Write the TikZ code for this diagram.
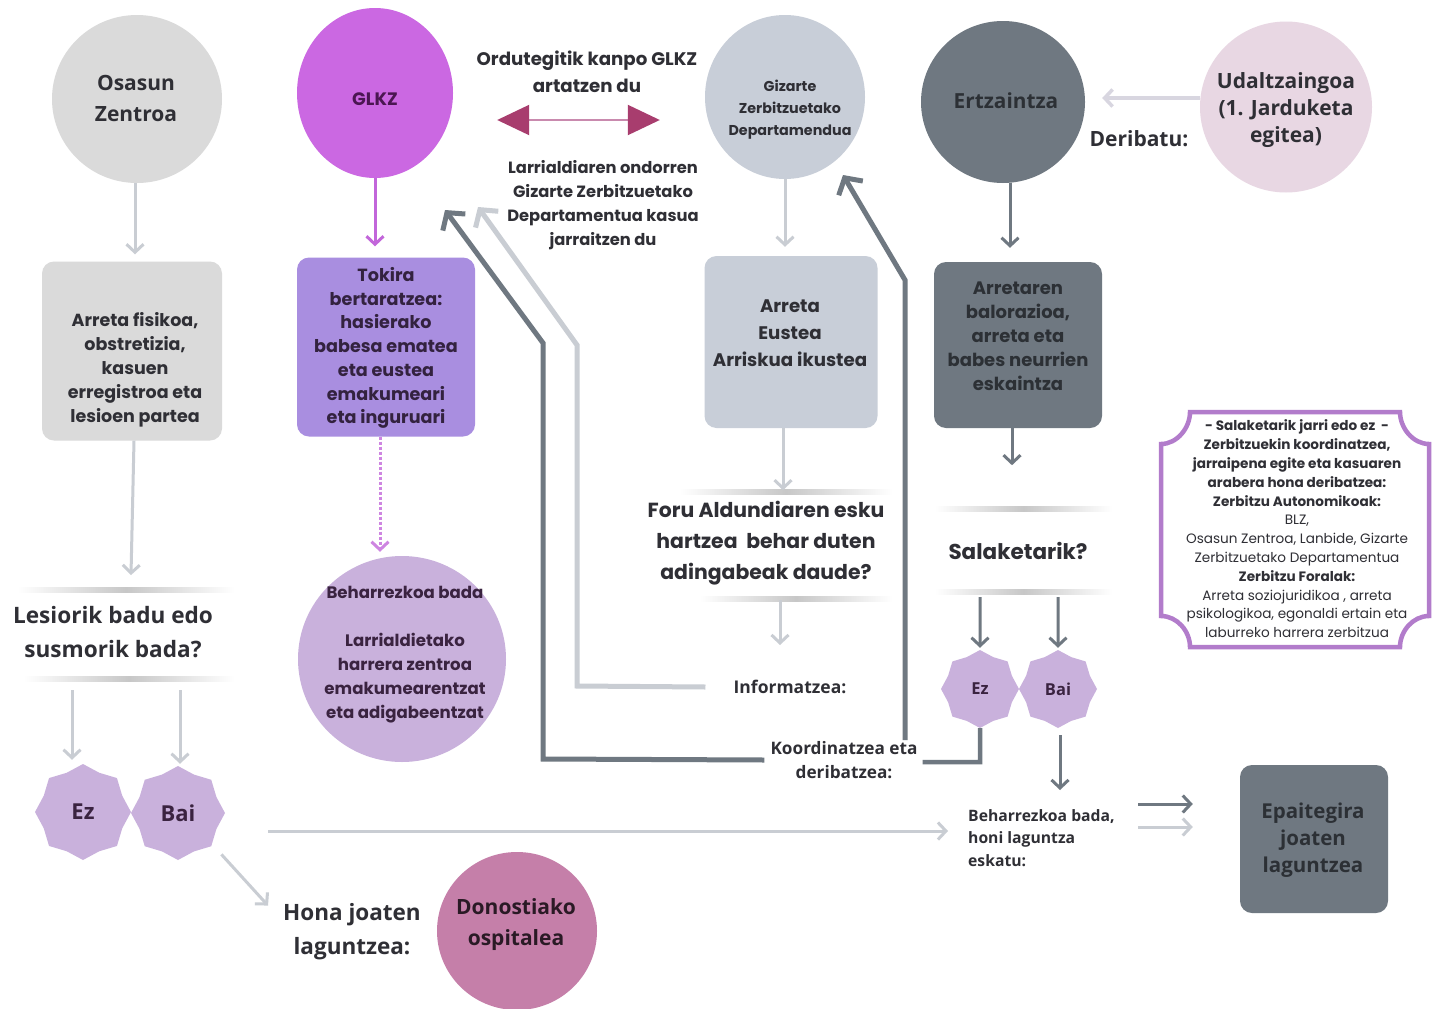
\documentclass[tikz,border=0pt]{standalone}
\usepackage{fontspec}
\setmainfont{Poppins}
\newfontfamily\os{Open Sans}
\usetikzlibrary{shapes.geometric,arrows.meta,calc}
\definecolor{cgrey}{HTML}{DADADA}
\definecolor{cglkz}{HTML}{CB68E2}
\definecolor{cglkzT}{HTML}{4B1652}
\definecolor{cpurp}{HTML}{A98EE0}
\definecolor{ctokT}{HTML}{33223F}
\definecolor{cblue}{HTML}{C8CED8}
\definecolor{cdark}{HTML}{6F7881}
\definecolor{ctextD}{HTML}{2C3035}
\definecolor{cpink}{HTML}{E8D7E3}
\definecolor{clav}{HTML}{C9B1DC}
\definecolor{cbehT}{HTML}{3A2340}
\definecolor{cmauve}{HTML}{C57FA9}
\definecolor{cdonT}{HTML}{2A1A25}
\definecolor{cline}{HTML}{C9CDD3}
\definecolor{clavline}{HTML}{D8D6E0}
\definecolor{cpurpline}{HTML}{C266DA}
\definecolor{ctext}{HTML}{2F2F35}
\definecolor{cframe}{HTML}{B27CCB}
\definecolor{ccrim}{HTML}{A83D6E}
\definecolor{cpinkline}{HTML}{C98AAE}
\newcommand\pbf[2]{\bfseries\fontsize{#1}{#2}\selectfont}
\newcommand\obf[2]{\os\bfseries\fontsize{#1}{#2}\selectfont}
\tikzset{
  blob/.style={ellipse, inner sep=0pt, draw=none},
  card/.style={rectangle, rounded corners=12pt, inner sep=0pt, draw=none},
  badge/.style={star, star points=8, star point ratio=1.13, inner sep=0pt, fill=clav, minimum size=#1},
  txt/.style={align=center, inner sep=0pt, text=ctext},
  tipS/.style={-{Straight Barb[length=8pt,width=17pt]}},
  tipB/.style={-{Straight Barb[length=12pt,width=28pt]}},
  lightarrow/.style={draw=cline, line width=3pt, tipS},
  lavarrow/.style={draw=clavline, line width=3.5pt, tipS},
  darkarrow/.style={draw=cdark, line width=3pt, tipS},
  purparrow/.style={draw=cpurpline, line width=3pt, tipS},
  dotarrow/.style={draw=cpurpline!80, line width=3pt, dotted, tipS},
  biglight/.style={draw=cline, line width=5pt, tipB},
  bigdark/.style={draw=cdark, line width=5pt, tipB},
  darkline/.style={draw=cdark, line width=4.5pt},
  softline/.style={left color=white, right color=white, middle color=black!22}
}
\begin{document}
\begin{tikzpicture}[x=1pt,y=-1pt]
\useasboundingbox (0,0) rectangle (1432,1009);
\fill[white] (0,0) rectangle (1432,1009);

% ---------- top row ----------
\node[blob, fill=cgrey, minimum width=170pt, minimum height=168pt] (osasun) at (137,99) {};
\node[txt, font=\obf{21}{31}] (osasunT) at (136,98) {Osasun\\Zentroa};

\node[blob, fill=cglkz, minimum width=156pt, minimum height=170pt] (glkz) at (375,93) {};
\node[txt, font=\pbf{18}{24}, text=cglkzT] (glkzT) at (375,99) {GLKZ};

\node[blob, fill=cblue, minimum width=160pt, minimum height=164pt] (gizarte) at (785,97) {};
\node[txt, font=\pbf{14.3}{22}] (gizarteT) at (790,110) {Gizarte\\Zerbitzuetako\\Departamendua};

\node[blob, fill=cdark, minimum width=164pt, minimum height=162pt] (ertz) at (1003,102) {};
\node[txt, font=\obf{20.8}{27}, text=ctextD] (ertzT) at (1006,101) {Ertzaintza};

\node[blob, fill=cpink, minimum width=172pt, minimum height=171pt] (udal) at (1286,107) {};
\node[txt, font=\obf{21}{27}] (udalT) at (1286,110) {Udaltzaingoa\\(1. Jarduketa\\egitea)};

\node[txt, font=\obf{21}{27}] (derib) at (1139,139) {Deribatu:};

\node[txt, font=\pbf{18.2}{27}] (ordu) at (587,72) {Ordutegitik kanpo GLKZ\\artatzen du};
\node[txt, font=\pbf{16.3}{24}] (larri) at (603,205) {Larrialdiaren ondorren\\Gizarte Zerbitzuetako\\Departamentua kasua\\jarraitzen du};

% ---------- second row ----------
\node[card, fill=cgrey, minimum width=180pt, minimum height=179pt] (arreta) at (132,351) {};
\node[txt, font=\pbf{17.5}{24}] (arretaT) at (135,370) {Arreta fisikoa,\\obstretizia,\\kasuen\\erregistroa eta\\lesioen partea};

\node[card, fill=cpurp, minimum width=178pt, minimum height=179pt] (tokira) at (386,347) {};
\node[txt, font=\pbf{17.6}{23.7}, text=ctokT] (tokiraT) at (386,348) {Tokira\\bertaratzea:\\hasierako\\babesa ematea\\eta eustea\\emakumeari\\eta inguruari};

\node[card, fill=cblue, minimum width=173pt, minimum height=172pt] (eustea) at (791,342) {};
\node[txt, font=\pbf{18.2}{27}] (eusteaT) at (790,333) {Arreta\\Eustea\\Arriskua ikustea};

\node[card, fill=cdark, minimum width=168pt, minimum height=166pt] (arretaren) at (1018,345) {};
\node[txt, font=\pbf{18}{24}, text=ctextD] (arretarenT) at (1018,336) {Arretaren\\balorazioa,\\arreta eta\\babes neurrien\\eskaintza};

% ---------- third row ----------
\shade[softline] (18,587) rectangle (234,592);
\shade[softline] (24,676) rectangle (234,681);
\node[txt, font=\obf{22.6}{34}] (lesio) at (113,632) {Lesiorik badu edo\\susmorik bada?};

\node[blob, fill=clav, minimum width=208pt, minimum height=206pt] (behar) at (402,659) {};
\node[txt, font=\pbf{16.6}{24}, text=cbehT] (beharT) at (405,655) {Beharrezkoa bada\\\mbox{}\\Larrialdietako\\harrera zentroa\\emakumearentzat\\eta adigabeentzat};

\shade[softline] (680,489) rectangle (892,494);
\shade[softline] (700,596) rectangle (892,601);
\node[txt, font=\pbf{20.4}{31}] (foru) at (766,543) {Foru Aldundiaren esku\\hartzea\ \ behar duten\\adingabeak daude?};
\node[txt, font=\obf{17.5}{24}] (inform) at (790,687) {Informatzea:};

\shade[softline] (935,506) rectangle (1112,511);
\shade[softline] (935,589) rectangle (1112,594);
\node[txt, font=\pbf{21.5}{27}] (salak) at (1018,551) {Salaketarik?};

\node[txt, font=\obf{17.2}{24}] (koord) at (844,760) {Koordinatzea eta\\deribatzea:};

\node[badge=78pt, font=\obf{16.5}{20}, text=cbehT] (ezR) at (980,689) {Ez};
\node[badge=78pt, font=\obf{16.5}{20}, text=cbehT] (baiR) at (1058,689) {Bai};

\node[txt, font=\obf{15.7}{22.5}, anchor=west, align=left] (beharB) at (968,838) {Beharrezkoa bada,\\honi laguntza\\eskatu:};

\node[card, fill=cdark, minimum width=148pt, minimum height=148pt] (epai) at (1314,839) {};
\node[txt, font=\obf{20.5}{27}, text=ctextD] (epaiT) at (1313,840) {Epaitegira\\joaten\\laguntzea};

\node[badge=96pt, font=\obf{22}{24}, text=cbehT] (ezL) at (83,812) {Ez};
\node[badge=94pt, font=\obf{22}{24}, text=cbehT] (baiL) at (178,813) {Bai};

\node[txt, font=\obf{22.5}{34}] (hona) at (352,932) {Hona joaten\\laguntzea:};
\node[blob, fill=cmauve, minimum width=160pt, minimum height=158pt] (donos) at (517,931) {};
\node[txt, font=\obf{21}{31}, text=cdonT] (donosT) at (516,925) {Donostiako\\ospitalea};

% ---------- notes frame ----------
\draw[cframe, line width=4.5pt, fill=white]
  (1190,412) -- (1400,412)
  .. controls (1400,428) and (1413,444) .. (1429,444)
  -- (1429,616)
  .. controls (1413,616) and (1400,631) .. (1400,647)
  -- (1190,647)
  .. controls (1190,631) and (1177,616) .. (1161,616)
  -- (1161,444)
  .. controls (1177,444) and (1190,428) .. (1190,412) -- cycle;
\node[txt, font=\fontsize{13.6}{18.8}\selectfont] (notes) at (1297,529)
 {{\bfseries - Salaketarik jarri edo ez\ \ -}\\
  {\bfseries Zerbitzuekin koordinatzea,}\\
  {\bfseries jarraipena egite eta kasuaren}\\
  {\bfseries arabera hona deribatzea:}\\
  {\bfseries Zerbitzu Autonomikoak:}\\
  BLZ,\\
  Osasun Zentroa, Lanbide, Gizarte\\
  Zerbitzuetako Departamentua\\
  {\bfseries Zerbitzu Foralak:}\\
  Arreta soziojuridikoa , arreta\\
  psikologikoa, egonaldi ertain eta\\
  laburreko harrera zerbitzua};

% ---------- connectors ----------
\draw[line width=2pt, draw=cpinkline, {Triangle[length=32pt,width=30pt,color=ccrim]}-{Triangle[length=32pt,width=30pt,color=ccrim]}]
  ($(glkz.east)+(44,27)$) -- ($(gizarte.west)+(-45,23)$);

\coordinate (a1s) at ($(osasun.south)+(-2,0)$);
\draw[lightarrow, shorten >=7pt] (a1s) -- (a1s |- arreta.north);
\draw[purparrow, shorten >=11pt] (glkz.south) -- (glkz.south |- tokira.north);
\draw[lightarrow, shorten >=9pt] (gizarte.south) -- (gizarte.south |- eustea.north);
\coordinate (a4s) at ($(ertz.south)+(7,0)$);
\draw[darkarrow, shorten >=14pt] (a4s) -- (a4s |- arretaren.north);
\draw[lavarrow] ($(udal.west)+(0,-9)$) -- ($(ertz.east)+(17,-4)$);

\coordinate (a6s) at ($(arreta.south)+(2,0)$);
\coordinate (a6e) at ($(lesio.north)+(18,-31)$);
\draw[lightarrow] (a6s) -- (a6e);
\coordinate (a7s) at ($(tokira.south)+(-6,0)$);
\draw[dotarrow, shorten >=4pt] (a7s) -- (a7s |- behar.north);
\coordinate (a8s) at ($(eustea.south)+(-8,0)$);
\coordinate (a8e) at ($(eustea.south)+(-8,62)$);
\draw[lightarrow] (a8s) -- (a8e);
\coordinate (fS) at (780,600);
\coordinate (fE) at (780,645);
\draw[lightarrow] (fS) -- (fE);
\coordinate (eS) at ($(arretaren.south)+(-6,0)$);
\coordinate (eE) at ($(arretaren.south)+(-6,37)$);
\draw[darkarrow] (eS) -- (eE);
\coordinate (qa) at (72,690);
\coordinate (qb) at (180,690);
\draw[lightarrow, shorten >=4pt] (qa) -- (qa |- ezL.north);
\draw[lightarrow, shorten >=2pt] (qb) -- (qb |- baiL.north);
\draw[lightarrow] ($(baiL.-45)+(10,8)$) -- ($(hona.north west)+(-15,2)$);
\coordinate (sa) at (980,597);
\coordinate (sb) at (1058,597);
\draw[darkarrow, shorten >=2pt] (sa) -- (ezR.north);
\draw[darkarrow, shorten >=2pt] (sb) -- (baiR.north);
\coordinate (bS) at (1060,735);
\coordinate (bE) at (1060,790);
\draw[darkarrow] (bS) -- (bE);

\coordinate (lS) at (268,831);
\draw[lightarrow, shorten >=20pt] (lS) -- (beharB.west |- lS);
\coordinate (d1) at (1138,804);
\coordinate (d2) at (1138,827);
\draw[darkarrow, shorten >=47pt] (d1) -- (epai.west |- d1);
\draw[lightarrow, shorten >=47pt] (d2) -- (epai.west |- d2);

% long feedback connectors
\coordinate (iA) at (577,686);
\coordinate (iB) at (577,345);
\coordinate (iC) at (478,207);
\draw[biglight] ($(inform.west)+(-28,0)$) -- (iA) -- (iB) -- (iC);
\coordinate (kA) at (543,759);
\coordinate (kB) at (543,343);
\coordinate (kC) at (445,210);
\draw[bigdark] ($(koord.west)+(-6,0)$) -- (kA) -- (kB) -- (kC);
\coordinate (gA) at (905,740);
\coordinate (gB) at (905,280);
\coordinate (gC) at (843,175);
\draw[bigdark] (gA) -- (gB) -- (gC);
\coordinate (eA) at (980,762);
\draw[darkline] (ezR.south) -- (eA) -- ($(koord.east)+(5,2)$);
\end{tikzpicture}
\end{document}
